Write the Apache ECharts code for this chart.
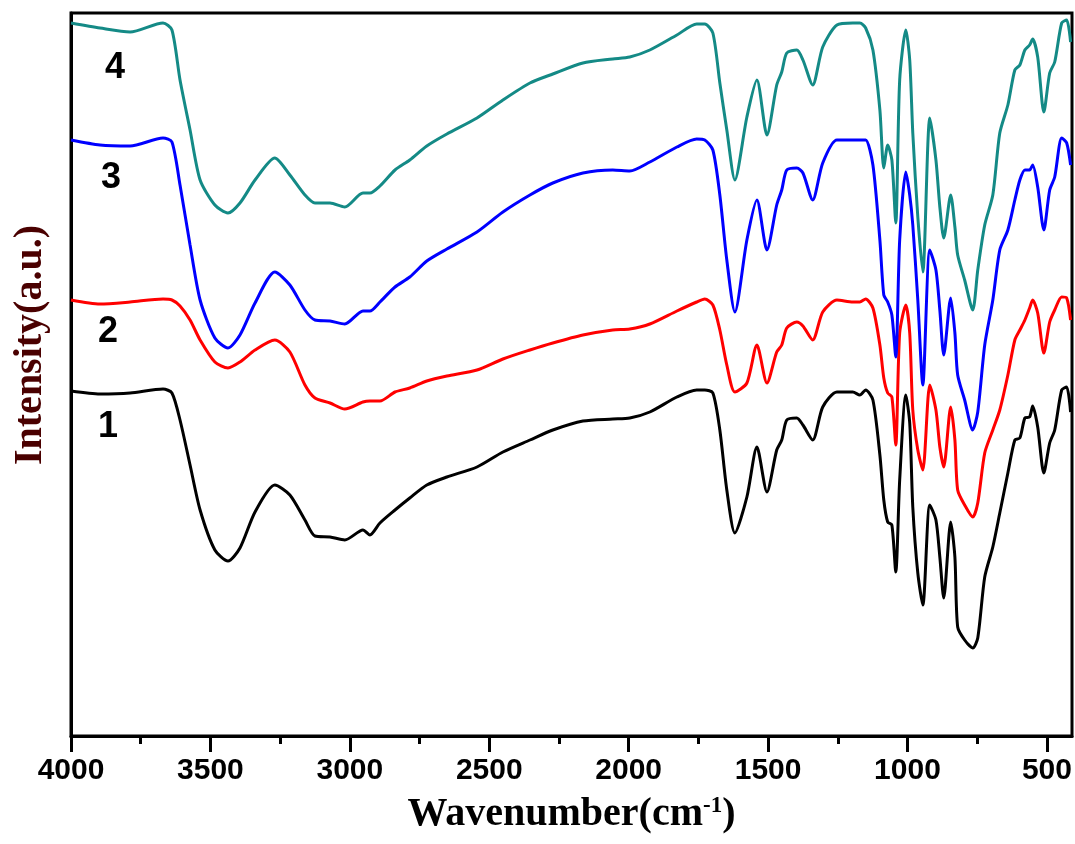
<!DOCTYPE html>
<html>
<head>
<meta charset="utf-8">
<title>FTIR spectra</title>
<script src="https://cdn.jsdelivr.net/npm/echarts@6/dist/echarts.min.js"></script>
<style>
  html, body { margin: 0; padding: 0; background: #fff; }
  #chart { width: 1075px; height: 844px; }
</style>
</head>
<body>
<div id="chart"></div>
<script>
// wavenumber grid (cm-1) shared by the four spectra
const wavenumbers = [
  4000, 3896, 3788, 3670, 3638, 3609, 3573, 3537, 3484, 3437,
  3394, 3340, 3269, 3215, 3161, 3125, 3071, 3018, 2953, 2928,
  2892, 2838, 2785, 2724, 2652, 2544, 2451, 2354, 2272, 2164,
  2057, 1996, 1924, 1827, 1756, 1727, 1698, 1673, 1648, 1619,
  1576, 1540, 1504, 1469, 1451, 1433, 1397, 1375, 1340, 1304,
  1253, 1196, 1171, 1150, 1124, 1099, 1085, 1071, 1056, 1042,
  1028, 1006, 992, 981, 963, 945, 920, 898, 884, 870,
  845, 830, 820, 795, 766, 748, 723, 694, 669, 640,
  615, 597, 579, 562, 551, 533, 511, 490, 472, 447,
  429, 415
]

// intensities (a.u., curves offset vertically)
const curve1 = [
  345, 342, 343, 347, 343, 316, 271, 226, 186, 175,
  188, 224, 251, 241, 216, 200, 199, 196, 206, 201,
  213, 226, 238, 251, 259, 269, 284, 296, 306, 315,
  317, 318, 324, 339, 346, 346, 343, 306, 246, 203,
  239, 289, 244, 286, 296, 316, 318, 311, 296, 329,
  344, 344, 341, 346, 336, 281, 236, 214, 211, 164,
  256, 341, 313, 229, 163, 131, 231, 216, 179, 138,
  214, 179, 109, 96, 88, 98, 159, 189, 223, 263,
  296, 298, 318, 319, 330, 309, 263, 293, 306, 346,
  349, 324
]
const curve2 = [
  436, 432, 434, 437, 436, 430, 416, 396, 374, 368,
  374, 386, 396, 384, 351, 338, 333, 327, 334, 335,
  335, 344, 348, 355, 360, 366, 377, 386, 393, 401,
  406, 407, 412, 425, 434, 437, 431, 406, 371, 344,
  353, 391, 353, 384, 391, 408, 414, 410, 396, 424,
  436, 434, 434, 437, 428, 391, 358, 343, 339, 291,
  403, 431, 403, 326, 286, 266, 351, 326, 289, 269,
  329, 296, 246, 231, 219, 233, 283, 306, 326, 361,
  396, 406, 416, 428, 436, 423, 383, 414, 426, 439,
  438, 416
]
const curve3 = [
  596, 591, 590, 598, 594, 551, 491, 436, 398, 388,
  401, 433, 464, 451, 426, 416, 415, 412, 425, 425,
  434, 449, 459, 475, 487, 504, 524, 541, 553, 563,
  566, 565, 574, 589, 597, 596, 586, 541, 476, 424,
  496, 536, 486, 531, 546, 566, 568, 563, 536, 573,
  596, 596, 596, 596, 571, 496, 441, 434, 421, 379,
  496, 564, 541, 511, 436, 351, 486, 466, 426, 381,
  438, 403, 361, 336, 306, 324, 391, 436, 486, 506,
  536, 556, 566, 566, 571, 549, 506, 546, 559, 598,
  593, 571
]
const curve4 = [
  713, 708, 704, 713, 706, 656, 606, 556, 531, 523,
  533, 556, 578, 561, 541, 533, 533, 529, 543, 543,
  550, 566, 576, 590, 602, 618, 636, 653, 662, 673,
  677, 679, 686, 701, 712, 712, 703, 653, 606, 556,
  619, 656, 601, 651, 664, 683, 686, 676, 651, 689,
  711, 713, 713, 708, 686, 626, 568, 591, 576, 513,
  656, 706, 676, 603, 519, 464, 618, 576, 529, 498,
  541, 509, 481, 456, 426, 466, 511, 541, 603, 631,
  666, 671, 686, 691, 697, 679, 624, 663, 674, 713,
  716, 694
]

const majorTicks = [4000, 3500, 3000, 2500, 2000, 1500, 1000, 500]
const minorTicks = [3750, 3250, 2750, 2250, 1750, 1250, 750]
const curveNames = ['1', '2', '3', '4']
const curveColors = ['#000000', '#ff0000', '#0000ff', '#148a86']

const pairs = (ys) => wavenumbers.map((w, i) => [w, ys[i]])

const chart = echarts.init(document.getElementById('chart'))

const numberFont = '"Liberation Sans", Arial, sans-serif'
const serifFont = '"Liberation Serif", "Times New Roman", serif'
const curveLabel = (name, x, y) => ({
  type: 'text', x: x, y: y,
  style: {
    text: name, font: 'bold 36px ' + numberFont, fill: '#000',
    align: 'center', verticalAlign: 'middle', textAlign: 'center', textVerticalAlign: 'middle'
  }
})

const option = {
  animation: false,
  backgroundColor: '#ffffff',
  grid: {
    left: 71,
    right: 3,
    top: 13,
    bottom: 108,
    show: true,
    borderColor: '#000',
    borderWidth: 3
  },
  xAxis: [{
    type: 'value',
    min: 410,
    max: 4000,
    inverse: true,
    position: 'bottom',
    axisLine: { lineStyle: { color: '#000', width: 3 } },
    axisTick: {
      customValues: majorTicks,
      length: 16,
      lineStyle: { color: '#000', width: 3 }
    },
    axisLabel: {
      customValues: majorTicks,
      formatter: (v) => String(v),
      margin: 20,
      color: '#000',
      fontSize: 30,
      fontWeight: 'bold',
      fontFamily: numberFont
    },
    splitLine: { show: false },
    name: '{t|Wavenumber(cm}{s|-1}{t|)}',
    nameLocation: 'middle',
    nameGap: 59,
    nameTextStyle: {
      rich: {
        t: { fontSize: 40, fontWeight: 'bold', color: '#000', fontFamily: serifFont },
        s: { fontSize: 23, fontWeight: 'bold', color: '#000', fontFamily: serifFont, verticalAlign: 'top' }
      }
    }
  }, {
    // minor ticks
    type: 'value',
    min: 410,
    max: 4000,
    inverse: true,
    position: 'bottom',
    axisLine: { show: false },
    axisTick: {
      customValues: minorTicks,
      length: 8,
      lineStyle: { color: '#000', width: 3 }
    },
    axisLabel: { show: false },
    splitLine: { show: false }
  }],
  yAxis: {
    type: 'value',
    min: 0,
    max: 723,
    axisLine: { show: true, lineStyle: { color: '#000', width: 3 } },
    axisTick: { show: false },
    axisLabel: { show: false },
    splitLine: { show: false }
  },
  graphic: [
    {
      type: 'text', x: 31, y: 345, rotation: Math.PI / 2,
      style: {
        text: 'Intensity(a.u.)',
        font: 'bold 40px ' + serifFont,
        fill: '#4a0000', align: 'center', verticalAlign: 'middle',
        textAlign: 'center', textVerticalAlign: 'middle'
      }
    },
    curveLabel(curveNames[0], 108, 427),
    curveLabel(curveNames[1], 108, 332),
    curveLabel(curveNames[2], 111, 178),
    curveLabel(curveNames[3], 115, 68)
  ],
  series: [curve1, curve2, curve3, curve4].map((ys, i) => ({
    name: curveNames[i],
    type: 'line',
    data: pairs(ys),
    showSymbol: false,
    smooth: 0.25,
    lineStyle: { color: curveColors[i], width: 3 },
    itemStyle: { color: curveColors[i] }
  }))
}

chart.setOption(option)
</script>
</body>
</html>
